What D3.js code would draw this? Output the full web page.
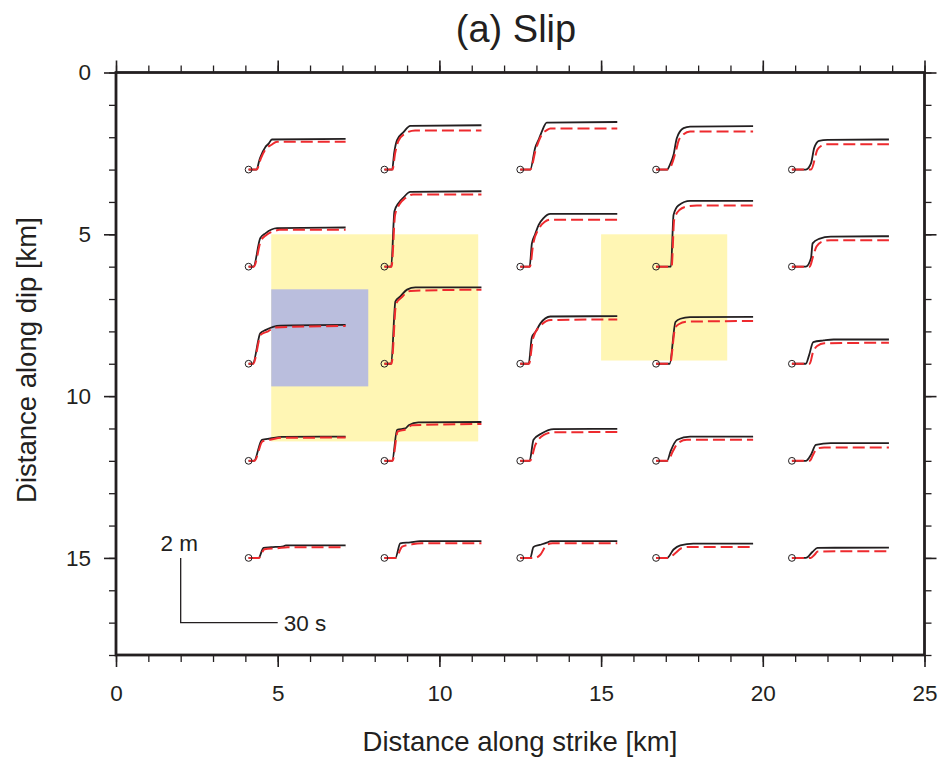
<!DOCTYPE html>
<html>
<head>
<meta charset="utf-8">
<script src="https://cdn.jsdelivr.net/npm/d3@7/dist/d3.min.js"></script>
<style>
  html, body { margin: 0; padding: 0; background: #fff; }
  svg { display: block; }
  text { font-family: "Liberation Sans", Arial, Helvetica, sans-serif; fill: #231f20; }
</style>
</head>
<body>
<svg id="chart" width="941" height="758"></svg>
<script>
// ---------------- DATA ----------------
const xTickLabels = [0, 5, 10, 15, 20, 25];
const yTickLabels = [0, 5, 10, 15];
const stationX = [4.1, 8.3, 12.5, 16.7, 20.9];   // km along strike
const stationY = [3, 6, 9, 12, 15];               // km along dip
const secondsToKm = 0.1;   // 30 s  -> 3 km
const metresToKm = 1.0;    // 2 m   -> 2 km

// Regions (km): [x0, x1, y0, y1]
const yellowPatches = [[4.8, 11.2, 5.0, 11.4], [15.0, 18.9, 5.0, 8.9]];
const bluePatches = [[4.8, 7.8, 6.7, 9.7]];

// Slip time functions [time s, slip m]; rows = stationY, cols = stationX
const targetSlip = [
  [ // y = 3
    [[0,0],[2.4,0],[3.5,0.35],[5.2,0.7],[6.2,0.8],[7.2,0.93],[30,0.95]],
    [[0,0],[2.4,0],[3.0,0.5],[3.9,0.91],[5.9,1.16],[8,1.35],[30,1.37]],
    [[0,0],[3.1,0],[4.6,0.67],[5.8,0.95],[6.7,1.18],[8.2,1.45],[30,1.47]],
    [[0,0],[3.4,0],[4.3,0.15],[5.4,0.46],[6.4,0.97],[8.5,1.28],[10.5,1.33],[30,1.34]],
    [[0,0],[4.3,0],[5.9,0.19],[6.9,0.67],[8.4,0.89],[11,0.92],[30,0.93]]
  ],
  [ // y = 6
    [[0,0],[1.5,0],[3.6,0.88],[5.2,1.03],[8.8,1.19],[30,1.21]],
    [[0,0],[2.1,0],[3.1,1.71],[4.4,1.97],[6,2.15],[8,2.31],[30,2.33]],
    [[0,0],[2.9,0],[3.6,0.72],[4.6,1.0],[5.7,1.29],[7.2,1.5],[9.3,1.63],[30,1.63]],
    [[0,0],[4.6,0],[5.4,1.6],[6.9,1.89],[10.5,2.03],[30,2.03]],
    [[0,0],[4.3,0],[5.9,0.26],[6.4,0.72],[8.4,0.86],[12,0.93],[30,0.94]]
  ],
  [ // y = 9
    [[0,0],[1.3,0],[3.6,0.94],[5.2,1.04],[9.8,1.18],[30,1.2]],
    [[0,0],[2.1,0],[3.4,1.93],[4.9,2.08],[7,2.29],[9.6,2.36],[30,2.36]],
    [[0,0],[2.6,0],[3.6,0.82],[4.8,1.0],[6.2,1.24],[9.3,1.46],[30,1.47]],
    [[0,0],[4.2,0],[6.0,1.29],[7.5,1.39],[10.5,1.44],[30,1.45]],
    [[0,0],[4.3,0],[5.3,0.26],[6.6,0.67],[9.8,0.72],[12.9,0.75],[30,0.75]]
  ],
  [ // y = 12
    [[0,0],[1.7,0],[4.1,0.65],[6.7,0.69],[10.3,0.74],[30,0.75]],
    [[0,0],[2.4,0],[3.9,0.96],[6.5,1.0],[7.5,1.1],[10.5,1.19],[30,1.2]],
    [[0,0],[2.9,0],[4.1,0.65],[6.7,0.85],[10.3,0.98],[30,0.99]],
    [[0,0],[3.4,0],[4.5,0.3],[6.5,0.65],[10.5,0.75],[30,0.75]],
    [[0,0],[4.3,0],[5.9,0.19],[7.4,0.49],[12,0.55],[30,0.55]]
  ],
  [ // y = 15
    [[0,0],[3.1,0],[4.6,0.31],[7,0.33],[10.8,0.36],[11.5,0.39],[30,0.39]],
    [[0,0],[3.4,0],[4.9,0.45],[8,0.48],[11,0.52],[30,0.52]],
    [[0,0],[3.1,0],[4.1,0.34],[6,0.4],[8.2,0.47],[9.5,0.52],[30,0.52]],
    [[0,0],[3.4,0],[5.4,0.26],[7.5,0.39],[11.5,0.44],[30,0.44]],
    [[0,0],[4.3,0],[6.4,0.19],[7.9,0.31],[30,0.32]]
  ]
];

const modelSlip = [
  [
    [[0,0],[2.5,0],[3.8,0.35],[5.5,0.66],[7,0.76],[8.8,0.86],[30,0.86]],
    [[0,0],[2.5,0],[3.3,0.5],[4.3,0.88],[6.2,1.1],[9.5,1.21],[30,1.21]],
    [[0,0],[3.1,0],[4.8,0.62],[6.8,1.1],[8.2,1.22],[9.3,1.27],[30,1.27]],
    [[0,0],[3.6,0],[4.8,0.15],[6.2,0.6],[7.0,0.9],[8.5,1.09],[10.5,1.18],[30,1.18]],
    [[0,0],[5.9,0],[7.9,0.62],[9.2,0.74],[10.5,0.78],[30,0.78]]
  ],
  [
    [[0,0],[1.6,0],[3.8,0.8],[5.5,0.98],[8.0,1.1],[9.5,1.14],[30,1.14]],
    [[0,0],[2.2,0],[3.3,1.6],[4.6,1.92],[6.5,2.12],[8.8,2.23],[30,2.23]],
    [[0,0],[3.0,0],[4.0,0.7],[5.9,1.2],[7.5,1.38],[9.3,1.45],[30,1.45]],
    [[0,0],[4.8,0],[5.6,1.45],[7.2,1.75],[9.5,1.86],[12.6,1.89],[30,1.89]],
    [[0,0],[5.5,0],[6.5,0.3],[7.6,0.62],[9.5,0.78],[12,0.82],[30,0.82]]
  ],
  [
    [[0,0],[1.4,0],[3.8,0.9],[6.0,1.0],[8.0,1.12],[30,1.17]],
    [[0,0],[2.2,0],[3.6,1.85],[5.3,2.05],[8.0,2.25],[30,2.29]],
    [[0,0],[2.7,0],[4.0,0.8],[6.5,1.2],[9.5,1.35],[30,1.37]],
    [[0,0],[4.3,0],[5.9,1.1],[7.0,1.22],[9.5,1.3],[30,1.32]],
    [[0,0],[5.5,0],[6.5,0.35],[7.8,0.55],[10,0.63],[30,0.65]]
  ],
  [
    [[0,0],[1.8,0],[4.3,0.6],[7.0,0.66],[10,0.71],[30,0.72]],
    [[0,0],[2.5,0],[4.1,0.9],[6.8,0.98],[8.5,1.1],[30,1.14]],
    [[0,0],[3.0,0],[4.7,0.5],[7.3,0.8],[10,0.88],[30,0.89]],
    [[0,0],[3.6,0],[5.2,0.3],[6.8,0.55],[9.5,0.65],[30,0.65]],
    [[0,0],[5.5,0],[6.6,0.2],[7.8,0.38],[10,0.41],[30,0.41]]
  ],
  [
    [[0,0],[3.2,0],[4.9,0.27],[9,0.3],[12,0.33],[30,0.33]],
    [[0,0],[3.5,0],[5.5,0.35],[8.5,0.42],[11.5,0.45],[30,0.45]],
    [[0,0],[4.6,0],[6.2,0.1],[8.2,0.4],[10,0.45],[30,0.45]],
    [[0,0],[3.6,0],[6.0,0.15],[7.8,0.3],[10,0.34],[30,0.34]],
    [[0,0],[5.8,0],[7.0,0.1],[8.0,0.2],[30,0.21]]
  ]
];

// scale bar: origin (km), lengths in metres / seconds
const scaleBarOrigin = [2, 15];
const scaleBarSlip = 2;     // m
const scaleBarTime = 30;    // s

// ---------------- DRAW ----------------
const svg = d3.select("#chart");
const plotLeft = 116, plotRight = 924.5, plotTop = 72.5, plotBottom = 655;
const x = d3.scaleLinear().domain([0, 25]).range([plotLeft, plotRight]);
const y = d3.scaleLinear().domain([0, 18]).range([plotTop, plotBottom]);

// patches
const g = svg.append("g");
g.selectAll("rect.yellow").data(yellowPatches).join("rect")
  .attr("x", d => x(d[0])).attr("y", d => y(d[2]))
  .attr("width", d => x(d[1]) - x(d[0])).attr("height", d => y(d[3]) - y(d[2]))
  .attr("fill", "#fff6b4");
g.selectAll("rect.blue").data(bluePatches).join("rect")
  .attr("x", d => x(d[0])).attr("y", d => y(d[2]))
  .attr("width", d => x(d[1]) - x(d[0])).attr("height", d => y(d[3]) - y(d[2]))
  .attr("fill", "#babedd");

// traces
const traces = [];
stationY.forEach((sy, r) => stationX.forEach((sx, c) => {
  traces.push({sx, sy, obs: targetSlip[r][c], mod: modelSlip[r][c]});
}));
const lineFor = tr => d3.line()
  .curve(d3.curveMonotoneX)
  .x(p => x(tr.sx + p[0] * secondsToKm))
  .y(p => y(tr.sy - p[1] * metresToKm));

const tg = svg.append("g");
traces.forEach(tr => {
  tg.append("path").attr("d", lineFor(tr)(tr.obs))
    .attr("fill", "none").attr("stroke", "#231f20").attr("stroke-width", 1.8)
    .attr("stroke-linejoin", "round");
  tg.append("path").attr("d", lineFor(tr)(tr.mod))
    .attr("fill", "none").attr("stroke", "#ee2a2e").attr("stroke-width", 2)
    .attr("stroke-dasharray", "12,5");
  tg.append("circle").attr("cx", x(tr.sx)).attr("cy", y(tr.sy)).attr("r", 3.4)
    .attr("fill", "none").attr("stroke", "#231f20").attr("stroke-width", 1);
});

// scale bar
const sb = svg.append("g");
const bx = scaleBarOrigin[0], by = scaleBarOrigin[1];
sb.append("path")
  .attr("d", d3.line()([[x(bx), y(by)], [x(bx), y(by + scaleBarSlip * metresToKm)],
    [x(bx + scaleBarTime * secondsToKm), y(by + scaleBarSlip * metresToKm)]]))
  .attr("fill", "none").attr("stroke", "#231f20").attr("stroke-width", 1.3);
sb.append("text").attr("x", x(bx) - 1.5).attr("y", y(by) - 7)
  .attr("text-anchor", "middle").attr("font-size", 22.5).text(scaleBarSlip + " m");
sb.append("text").attr("x", x(bx + scaleBarTime * secondsToKm) + 6)
  .attr("y", y(by + scaleBarSlip * metresToKm) + 8)
  .attr("font-size", 22.5).text(scaleBarTime + " s");

// axes
function styleAxis(sel) {
  sel.select(".domain").remove();
  sel.selectAll("line").attr("stroke", "#231f20");
  sel.selectAll("text").attr("font-size", 22.5).attr("fill", "#231f20")
    .attr("font-family", '"Liberation Sans", Arial, Helvetica, sans-serif');
}
const minorX = d3.range(0, 26), minorY = d3.range(0, 19);
const sides = [
  {axis: d3.axisBottom, vert: false, scale: x, t: `translate(0,${plotBottom})`, labels: true, majors: xTickLabels, minors: minorX},
  {axis: d3.axisTop, vert: false, scale: x, t: `translate(0,${plotTop})`, labels: false, majors: xTickLabels, minors: minorX},
  {axis: d3.axisLeft, vert: true, scale: y, t: `translate(${plotLeft},0)`, labels: true, majors: yTickLabels, minors: minorY},
  {axis: d3.axisRight, vert: true, scale: y, t: `translate(${plotRight},0)`, labels: false, majors: yTickLabels, minors: minorY}
];
sides.forEach(s => {
  const gm = svg.append("g").attr("transform", s.t)
    .call(s.axis(s.scale).tickValues(s.minors).tickSize(7).tickSizeOuter(0).tickFormat(""));
  styleAxis(gm); gm.selectAll("line").attr("stroke-width", 1.3);
  const gM = svg.append("g").attr("transform", s.t)
    .call(s.axis(s.scale).tickValues(s.majors).tickSize(12).tickSizeOuter(0)
      .tickPadding(s.vert ? 13 : 18).tickFormat(s.labels ? d3.format("d") : ""));
  styleAxis(gM); gM.selectAll("line").attr("stroke-width", 1.6);
});

// frame
svg.append("rect").attr("x", plotLeft).attr("y", plotTop)
  .attr("width", plotRight - plotLeft).attr("height", plotBottom - plotTop)
  .attr("fill", "none").attr("stroke", "#231f20").attr("stroke-width", 2.8);

// titles
svg.append("text").attr("x", 516).attr("y", 42).attr("text-anchor", "middle")
  .attr("font-size", 38).text("(a) Slip");
svg.append("text").attr("x", 520).attr("y", 751).attr("text-anchor", "middle")
  .attr("font-size", 27.5).text("Distance along strike [km]");
svg.append("text").attr("transform", `translate(36,360) rotate(-90)`)
  .attr("text-anchor", "middle").attr("font-size", 27.5).text("Distance along dip [km]");
</script>
</body>
</html>
